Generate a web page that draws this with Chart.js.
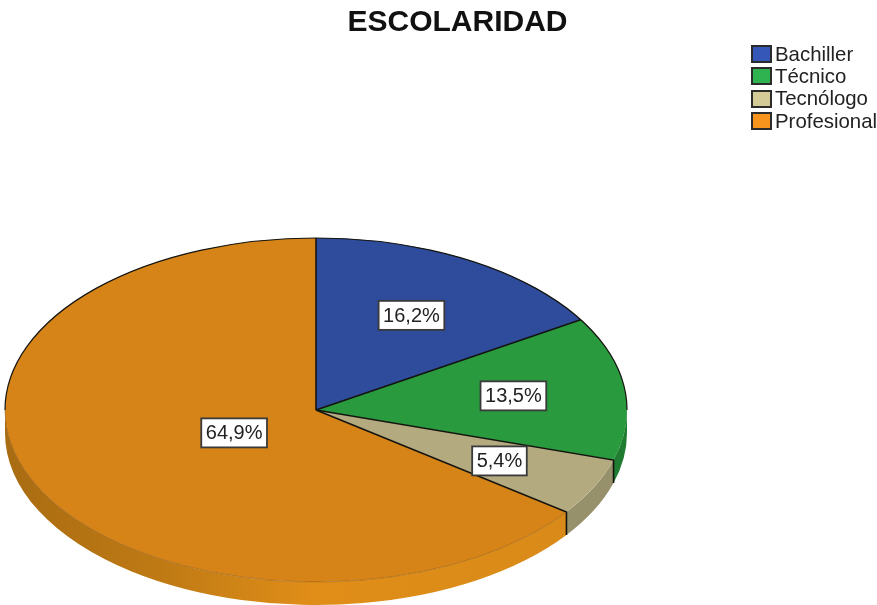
<!DOCTYPE html>
<html>
<head>
<meta charset="utf-8">
<script src="https://cdn.jsdelivr.net/npm/chart.js@4/dist/chart.umd.min.js"></script>
<style>
  html, body { margin: 0; background: #fff; }
  #wrap { position: relative; width: 877px; height: 605px; overflow: hidden; }
  #legend { position: absolute; left: 751px; top: 43px; font: 20.4px "Liberation Sans", Arial, sans-serif; color: #222; }
  .row { display: flex; align-items: center; height: 22.3px; white-space: nowrap; }
  .swatch { width: 17px; height: 14px; border: 2px solid #2b2b2b; margin-right: 3px; }
</style>
</head>
<body>
<div id="wrap">
  <canvas id="pie" width="877" height="605"></canvas>
  <div id="legend"></div>
</div>
<script>
const categories = ['Bachiller', 'Técnico', 'Tecnólogo', 'Profesional'];
const percents = [16.2, 13.5, 5.4, 64.9];

const faceColors = ['#2f4b9b', '#2a9a3f', '#b3aa80', '#d68418'];
const legendColors = ['#3557b7', '#2fb350', '#d3ca97', '#f7941d'];
const rimColors = ['#24397a', '#1f7c31', '#96906b', '#d98a18'];
const labelReach = [0.63, 0.64, 0.66, 0.295];

// pie is a flat disc seen from above: circle squashed to an ellipse plus a rim
const CX = 316, CY = 410, RX = 311, RY = 172, DEPTH = 23;
const squash = RY / RX;

const fmt = (v) => v.toFixed(1).replace('.', ',') + '%';

const tiltedPie = {
  id: 'tiltedPie',
  afterLayout(chart) {
    // title sits right of the canvas centre
    chart.titleBlock.left += 19;
    chart.titleBlock.right += 19;
  },
  beforeDatasetsDraw(chart) {
    const { ctx } = chart;
    const arcs = chart.getDatasetMeta(0).data;

    // rim below the front half of the disc
    arcs.forEach((arc, i) => {
      const a0 = Math.max(arc.startAngle, 0);
      const a1 = Math.min(arc.endAngle, Math.PI);
      if (a1 <= a0) return;
      ctx.beginPath();
      ctx.ellipse(CX, CY + DEPTH, RX, RY, 0, a0, a1);
      ctx.ellipse(CX, CY, RX, RY, 0, a1, a0, true);
      ctx.closePath();
      if (i === 3) {
        const g = ctx.createLinearGradient(CX - RX, 0, CX + 250, 0);
        g.addColorStop(0, '#a96c12');
        g.addColorStop(0.28, '#bf7a14');
        g.addColorStop(0.55, '#e08e18');
        g.addColorStop(1, '#d98a18');
        ctx.fillStyle = g;
      } else {
        ctx.fillStyle = rimColors[i];
      }
      ctx.fill();
    });

    // chart.js draws the arcs as circles, this squashes them
    const first = arcs[0];
    ctx.save();
    ctx.translate(CX, CY);
    ctx.scale(1, squash);
    ctx.translate(-first.x, -first.y);
  },
  afterDatasetsDraw(chart) {
    const { ctx } = chart;
    ctx.restore();
    const arcs = chart.getDatasetMeta(0).data;

    // dark outline on the back edge and between slices
    ctx.strokeStyle = '#14140f';
    ctx.lineWidth = 1.2;
    ctx.beginPath();
    ctx.ellipse(CX, CY, RX, RY, 0, Math.PI, Math.PI * 2);
    ctx.stroke();
    ctx.lineWidth = 1.6;
    arcs.forEach((arc) => {
      const x = CX + RX * Math.cos(arc.startAngle);
      const y = CY + RY * Math.sin(arc.startAngle);
      ctx.beginPath();
      ctx.moveTo(CX, CY);
      ctx.lineTo(x, y);
      if (Math.sin(arc.startAngle) > 0) ctx.lineTo(x, y + DEPTH);
      ctx.stroke();
    });

    // faint seam between the orange face and its rim
    ctx.strokeStyle = 'rgba(120,70,5,0.4)';
    ctx.lineWidth = 1;
    ctx.beginPath();
    ctx.ellipse(CX, CY, RX, RY, 0, arcs[3].startAngle, Math.PI);
    ctx.stroke();

    // value boxes
    ctx.font = '20px "Liberation Sans", Arial, sans-serif';
    ctx.textAlign = 'center';
    ctx.textBaseline = 'middle';
    arcs.forEach((arc, i) => {
      const mid = (arc.startAngle + arc.endAngle) / 2;
      const x = CX + RX * labelReach[i] * Math.cos(mid);
      const y = CY + RY * labelReach[i] * Math.sin(mid);
      const text = fmt(percents[i]);
      const w = ctx.measureText(text).width + 9;
      const h = 29;
      ctx.fillStyle = '#fff';
      ctx.fillRect(x - w / 2, y - h / 2, w, h);
      ctx.strokeStyle = '#3a3a3a';
      ctx.lineWidth = 1.8;
      ctx.strokeRect(x - w / 2, y - h / 2, w, h);
      ctx.fillStyle = '#222';
      ctx.fillText(text, x, y + 1);
    });
  },
};

new Chart(document.getElementById('pie'), {
  type: 'pie',
  data: {
    labels: categories,
    datasets: [{
      data: percents,
      backgroundColor: faceColors,
      borderWidth: 0,
      clip: false,
    }],
  },
  options: {
    responsive: false,
    animation: false,
    radius: RX,
    layout: { padding: 0 },
    plugins: {
      legend: { display: false },
      tooltip: { enabled: false },
      title: {
        display: true,
        text: 'ESCOLARIDAD',
        color: '#111',
        font: { family: '"Liberation Sans", Arial, sans-serif', size: 30, weight: 'bold', lineHeight: 1.2 },
        padding: { top: 5, bottom: 0 },
      },
    },
  },
  plugins: [tiltedPie],
});

const legend = document.getElementById('legend');
categories.forEach((name, i) => {
  const row = document.createElement('div');
  row.className = 'row';
  const swatch = document.createElement('span');
  swatch.className = 'swatch';
  swatch.style.background = legendColors[i];
  const label = document.createElement('span');
  label.textContent = name;
  row.append(swatch, label);
  legend.append(row);
});
</script>
</body>
</html>
